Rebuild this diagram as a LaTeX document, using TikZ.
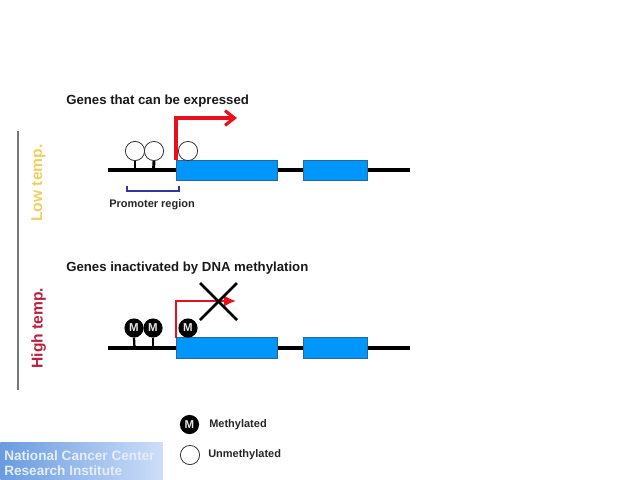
\documentclass[tikz,border=0pt]{standalone}
\usepackage{fontspec}
\setmainfont{Liberation Sans}
\usetikzlibrary{arrows.meta}
\definecolor{geneblue}{RGB}{0,150,250}
\definecolor{geneedge}{RGB}{35,105,160}
\definecolor{arrowred}{RGB}{235,15,25}
\definecolor{bracketblue}{RGB}{45,55,165}
\definecolor{lowtemp}{RGB}{245,205,95}
\definecolor{hightemp}{RGB}{190,30,60}
\definecolor{axisgray}{RGB}{120,120,120}
\definecolor{logoL}{RGB}{105,155,225}
\definecolor{logoR}{RGB}{205,222,248}
\tikzset{
  x=0.75pt,y=-0.75pt,
  titletext/.style={font=\bfseries\fontsize{9.9}{11}\selectfont,anchor=west,inner sep=0pt,text=black!90},
  smalltext/.style={font=\bfseries\fontsize{8.25}{9}\selectfont,anchor=west,inner sep=0pt,text=black!85},
  temptext/.style={font=\bfseries\fontsize{11.7}{14}\selectfont,rotate=90,inner sep=0pt},
  logotext/.style={font=\bfseries\fontsize{10.2}{11}\selectfont,anchor=west,inner sep=0pt,text=white!82!logoL},
  genebox/.style={draw=geneedge,line width=0.6pt,fill=geneblue,minimum height=15pt,inner sep=0pt,anchor=west},
  dnaline/.style={line width=3pt,black},
  stem/.style={line width=2.2pt,black},
  openmark/.style={circle,draw=black!80,line width=0.6pt,fill=white,minimum size=14.4pt,inner sep=0pt},
  metmark/.style={circle,fill=black,minimum size=14.4pt,inner sep=0pt,text=white!90!black,font=\bfseries\fontsize{8.6}{9}\selectfont},
  redarrow/.style={arrowred,-{Straight Barb[length=7pt,width=11pt,line width=2.4pt]}},
  crossline/.style={line width=2pt,black}
}
\begin{document}
\begin{tikzpicture}
\useasboundingbox (0,0) rectangle (638,479);
% logo
\node[anchor=north west,minimum width=122pt,minimum height=27.75pt,inner sep=0pt,left color=logoL,right color=logoR,shading angle=90] (logo) at (0,442) {};
\node[logotext] (logo1) at (4,456) {National Cancer Center};
\node[logotext] (logo2) at (4,470.5) {Research Institute};
% axis
\coordinate (axT) at (18,131);
\coordinate (axB) at (18,390);
\draw[axisgray,line width=1.9pt] (axT) -- (axB);
\node[temptext,text=lowtemp] (low) at (38.5,183) {Low temp.};
\node[temptext,text=hightemp] (high) at (38.5,328) {High temp.};
% upper gene
\node[titletext] (t1) at (66,101) {Genes that can be expressed};
\coordinate (aS) at (108,170);
\coordinate (aE) at (410,170);
\draw[dnaline] (aS) -- (aE);
\node[genebox,minimum width=76pt] (a1) at (176,170) {};
\node[genebox,minimum width=47.7pt] (a2) at (303,170) {};
\node[openmark] (ac1) at (135,151) {};
\node[openmark] (ac2) at (154,151) {};
\node[openmark] (ac3) at (188,151) {};
\coordinate (as1) at (135,170);
\coordinate (as2) at (153.5,170);
\draw[stem] (ac1.south) -- (as1);
\draw[stem] (ac2.south) -- (as2);
\coordinate (ar) at (176,160);
\coordinate (arT) at (237,118);
\draw[redarrow,line width=2.5pt] (ar) |- (arT);
% bracket
\coordinate (bL) at (127,186);
\coordinate (bR) at (179,186);
\draw[bracketblue,line width=0.9pt] (bL) -- ++(0,5) -| (bR);
\node[smalltext] (prom) at (109,205) {Promoter region};
% lower gene
\node[titletext] (t2) at (66,268.5) {Genes inactivated by DNA methylation};
\coordinate (bS) at (108,348);
\coordinate (bE) at (410,348);
\draw[dnaline] (bS) -- (bE);
\node[genebox,minimum width=76pt,minimum height=15.5pt] (b1) at (176,348) {};
\node[genebox,minimum width=47.7pt,minimum height=15.5pt] (b2) at (303,348) {};
\node[metmark] (bc1) at (134,328) {M};
\node[metmark] (bc2) at (153,328) {M};
\node[metmark] (bc3) at (188,328) {M};
\coordinate (bs1) at (134.5,348);
\coordinate (bs2) at (153,348);
\draw[stem,line width=1.7pt] (bc1.south) -- (bs1);
\draw[stem,line width=1.7pt] (bc2.south) -- (bs2);
\coordinate (br) at (176,338);
\coordinate (brT) at (236,301);
\draw[arrowred,line width=1.9pt,-{Latex[length=9pt,width=8.5pt]}] (br) |- (brT);
\coordinate (x1) at (200,283);
\coordinate (x2) at (237,320);
\coordinate (x3) at (237,283);
\coordinate (x4) at (200,320);
\draw[crossline] (x1) -- (x2);
\draw[crossline] (x3) -- (x4);
% legend
\node[metmark] (lm) at (189.5,424.5) {M};
\node[openmark] (lo) at (190,455) {};
\node[smalltext] (lmt) at (209,424.5) {Methylated};
\node[smalltext] (lot) at (208,454.5) {Unmethylated};
\end{tikzpicture}
\end{document}
